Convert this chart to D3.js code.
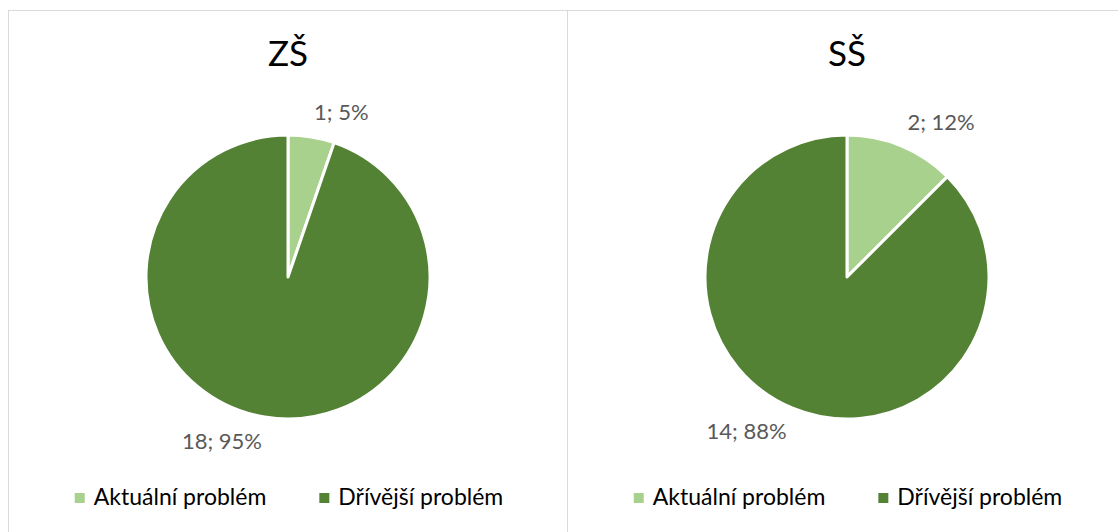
<!DOCTYPE html>
<html lang="cs">
<head>
<meta charset="utf-8">
<title>ZŠ / SŠ</title>
<script src="https://d3js.org/d3.v7.min.js"></script>
<style>
  body { margin: 0; background: #fff; }
  svg { display: block; font-family: Lato, "Open Sans", sans-serif; }
</style>
</head>
<body>
<script>
// categories and values
const categories = ["Aktuální problém", "Dřívější problém"];
const titles = ["ZŠ", "SŠ"];
const valuesZS = [1, 18];
const percentZS = [5, 95];
const valuesSS = [2, 14];
const percentSS = [12, 88];
const colors = ["#A9D18E", "#548235"];

const width = 1118, height = 532;
const panelW = 559;
const panelTop = 10.5;
const radius = 142;
const labelFont = 22, legendFont = 23, titleFont = 35;

const svg = d3.select("body").append("svg")
  .attr("width", width)
  .attr("height", height)
  .attr("viewBox", [0, 0, width, height]);

const color = d3.scaleOrdinal().domain(categories).range(colors);
const pie = d3.pie().sort(null).value(d => d.value);
const arc = d3.arc().innerRadius(0).outerRadius(radius);

drawPanel(0, titles[0], valuesZS, percentZS);
drawPanel(1, titles[1], valuesSS, percentSS);

function drawPanel(i, title, values, percents) {
  const x0 = 8.5 + i * panelW;
  const cx = x0 + 279.5, cy = 277;
  const g = svg.append("g");

  // chart area border
  g.append("rect")
    .attr("x", x0).attr("y", panelTop)
    .attr("width", panelW).attr("height", height)
    .attr("fill", "#fff")
    .attr("stroke", "#d9d9d9")
    .attr("stroke-width", 1);

  g.append("text")
    .attr("x", cx).attr("y", 66)
    .attr("text-anchor", "middle")
    .attr("fill", "#000")
    .style("font-size", titleFont + "px")
    .text(title);

  const data = categories.map((c, k) => ({ key: c, value: values[k], pct: percents[k] }));
  const arcs = pie(data);

  const pg = g.append("g").attr("transform", `translate(${cx},${cy})`);
  pg.selectAll("path")
    .data(arcs)
    .join("path")
    .attr("d", arc)
    .attr("fill", d => color(d.data.key))
    .attr("stroke", "#fff")
    .attr("stroke-width", 3)
    .attr("stroke-linejoin", "round");

  // data labels: "value; percent", placed outside end
  pg.selectAll("text")
    .data(arcs)
    .join("text")
    .each(function(d) {
      const a = (d.startAngle + d.endAngle) / 2;
      const r = radius + 16;
      const px = r * Math.sin(a), py = -r * Math.cos(a);
      d3.select(this)
        .attr("x", px)
        .attr("text-anchor", Math.sin(a) >= 0 ? "start" : "end")
        .attr("y", Math.cos(a) >= 0 ? py - 1 : py + labelFont * 0.74);
    })
    .attr("fill", "#595959")
    .style("font-size", labelFont + "px")
    .text(d => `${d.data.value}; ${d.data.pct}%`);

  // legend
  const lg = g.append("g").attr("transform", `translate(0,505)`);
  const items = lg.selectAll("g")
    .data(categories)
    .join("g");
  items.append("rect")
    .attr("y", -12)
    .attr("width", 10).attr("height", 10)
    .attr("fill", d => color(d));
  items.append("text")
    .attr("x", 19)
    .attr("fill", "#000")
    .style("font-size", legendFont + "px")
    .text(d => d);

  const widths = [];
  items.each(function() { widths.push(19 + d3.select(this).select("text").node().getComputedTextLength()); });
  const gap = 53;
  const totalW = d3.sum(widths) + gap * (widths.length - 1);
  let xs = cx + 1 - totalW / 2;
  items.attr("transform", (d, k) => {
    const x = xs;
    xs += widths[k] + gap;
    return `translate(${x},0)`;
  });
}
</script>
</body>
</html>
